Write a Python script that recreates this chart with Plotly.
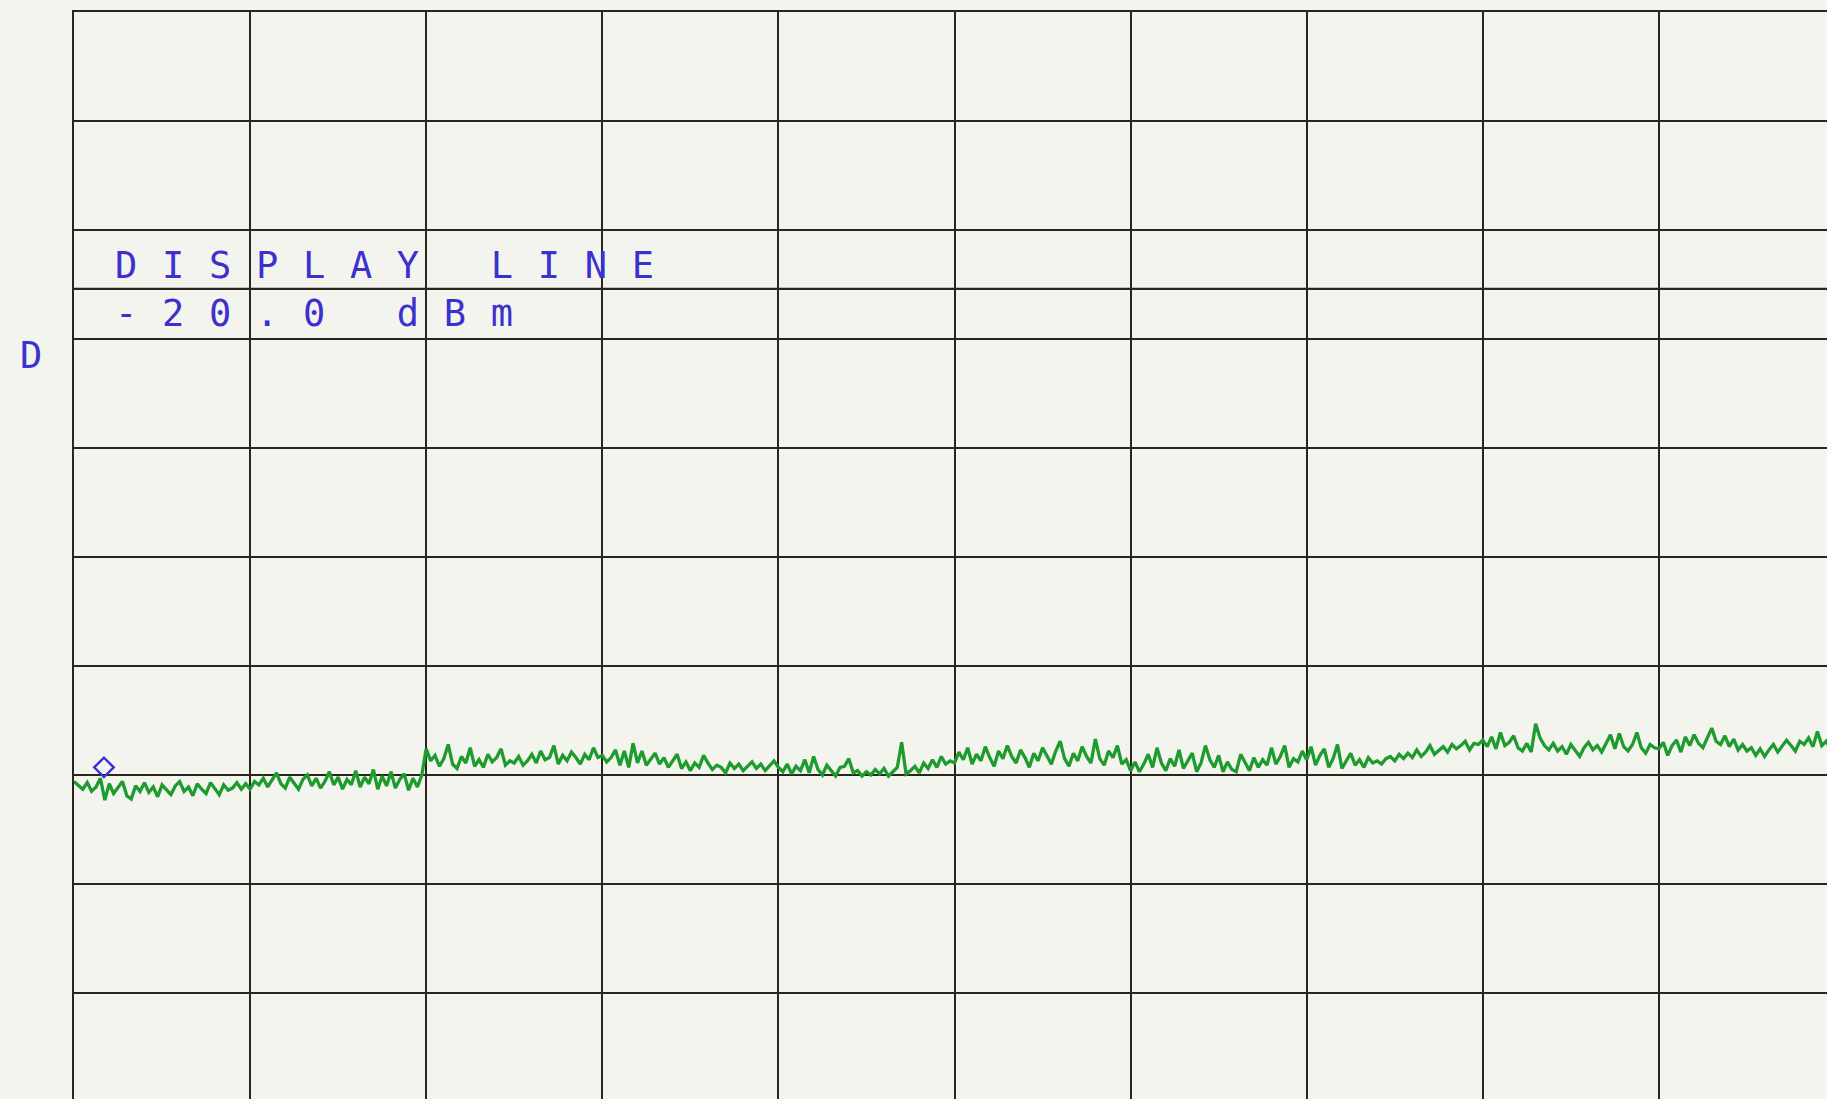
import numpy as np
import plotly.graph_objects as go

# ---------------- data ----------------
REF_LEVEL_DBM = 5.4          # top graticule line
DB_PER_DIV = 10
N_DIV_X = 10
DISPLAY_LINE_DBM = -20.0
LABEL_LINE1 = "DISPLAY LINE"
LABEL_LINE2 = "-20.0 dBm"
SIDE_LABEL = "D"

# trace amplitude (dBm), 40 sweep points per horizontal division
DIV0 = [-65.2,-65.6,-65.9,-65.3,-66.1,-65.7,-64.9,-66.9,-65.4,-66.3,-65.8,-65.2,-66.5,-66.8,-65.6,-66.1,-65.3,-66.2,-65.7,-66.6,
        -65.5,-66.0,-66.4,-65.6,-65.2,-66.1,-65.7,-66.5,-65.4,-65.9,-66.3,-65.3,-65.8,-66.4,-65.5,-66.0,-65.8,-65.3,-65.9,-65.4]
DIV1 = [-65.9,-65.2,-65.5,-64.9,-65.7,-65.1,-64.4,-65.4,-65.8,-64.8,-65.3,-65.9,-65.0,-64.6,-65.6,-64.9,-65.8,-65.2,-64.3,-65.5,
        -64.8,-65.9,-65.0,-65.5,-64.2,-65.7,-64.8,-65.4,-64.1,-65.9,-64.7,-65.6,-64.3,-65.8,-65.0,-64.5,-66.0,-64.9,-65.7,-64.6]
DIV2 = [-62.2,-63.3,-62.8,-63.8,-63.1,-61.8,-63.6,-64.0,-62.9,-63.5,-62.1,-63.8,-63.2,-63.9,-62.7,-63.4,-63.0,-62.2,-63.7,-63.3,
        -63.5,-62.9,-63.7,-63.3,-62.7,-63.5,-62.4,-63.2,-63.0,-61.9,-63.6,-62.8,-63.3,-62.5,-63.0,-63.6,-62.7,-63.2,-62.1,-63.0]
DIV3 = [-62.8,-63.4,-63.0,-62.3,-63.7,-62.4,-63.9,-61.7,-63.5,-62.4,-63.7,-63.1,-62.6,-63.6,-63.0,-63.9,-63.3,-62.7,-64.0,-63.4,
        -64.2,-63.5,-63.9,-62.8,-63.5,-64.1,-63.7,-63.9,-64.4,-63.5,-64.0,-63.6,-64.2,-63.8,-63.4,-64.0,-63.6,-64.2,-63.8,-63.3]
DIV4 = [-63.9,-64.3,-63.6,-64.5,-63.8,-64.2,-63.2,-64.4,-62.9,-64.1,-64.6,-63.7,-64.2,-64.7,-63.9,-63.8,-63.1,-64.4,-64.2,-64.7,
        -64.3,-64.6,-64.1,-64.5,-64.0,-64.7,-64.3,-63.9,-61.6,-64.5,-64.2,-63.8,-64.4,-63.5,-64.0,-63.2,-63.9,-62.9,-63.6,-63.3]
DIV5 = [-63.5,-62.5,-63.2,-62.1,-63.6,-62.7,-63.3,-62.0,-63.0,-63.8,-62.4,-63.1,-61.9,-62.9,-63.5,-62.3,-63.0,-63.9,-62.6,-63.3,
        -62.1,-62.8,-63.6,-62.4,-61.5,-63.1,-63.8,-62.6,-63.3,-62.0,-62.9,-63.5,-61.3,-63.1,-63.7,-62.4,-63.0,-61.9,-63.6,-63.2]
DIV6 = [-64.2,-63.4,-64.3,-63.6,-62.7,-63.9,-62.1,-63.5,-64.2,-63.1,-63.8,-62.3,-64.0,-63.3,-62.6,-64.3,-63.5,-61.9,-63.2,-63.9,
        -62.8,-64.3,-63.4,-64.1,-64.3,-62.7,-63.5,-64.2,-63.0,-63.9,-63.2,-63.7,-62.1,-63.6,-62.9,-61.9,-63.9,-63.1,-63.4,-62.4]
DIV7 = [-63.2,-62.0,-63.7,-62.8,-62.2,-63.9,-63.1,-61.8,-64.0,-63.3,-62.6,-63.7,-63.2,-63.9,-63.0,-63.5,-63.3,-63.6,-63.1,-62.9,
        -63.3,-62.7,-63.1,-62.6,-63.0,-62.3,-62.9,-62.5,-61.9,-62.7,-62.3,-62.0,-62.5,-61.8,-62.2,-61.9,-61.5,-62.3,-61.7,-61.8]
DIV8 = [-61.4,-62.0,-61.1,-62.2,-60.7,-61.9,-61.6,-61.0,-62.1,-62.4,-61.7,-62.5,-59.9,-61.2,-61.9,-62.3,-61.7,-62.4,-62.0,-62.7,
        -61.8,-62.3,-62.9,-62.1,-61.6,-62.3,-61.9,-62.5,-61.7,-60.9,-62.2,-60.8,-62.0,-62.4,-61.8,-60.7,-62.1,-62.6,-61.8,-62.1]
DIV9 = [-62.2,-61.6,-62.8,-61.9,-61.4,-62.5,-61.1,-61.9,-60.9,-61.7,-62.1,-61.2,-60.3,-61.5,-61.8,-61.0,-62.0,-61.3,-62.3,-61.8,
        -62.4,-62.1,-62.8,-62.2,-62.9,-62.3,-61.8,-62.5,-62.0,-61.4,-61.9,-62.4,-61.5,-61.8,-61.2,-62.0,-60.6,-61.9,-61.5,-62.2]
LAST_POINT = [-61.8]

MARKER_X_DIV = [0.17]
MARKER_DBM = [-63.9]

# ---------------- build ----------------
trace_dbm = DIV0 + DIV1 + DIV2 + DIV3 + DIV4 + DIV5 + DIV6 + DIV7 + DIV8 + DIV9 + LAST_POINT
x_div = np.linspace(0, N_DIV_X, len(trace_dbm))

BG = "#f4f4ef"
GRID = "#2a261d"
GREEN = "#1d9b2d"
BLUE = "#3b31cf"

W, H = 1827, 1099
L, T = 74, 12
PX_PER_XDIV = 176.1
PX_PER_YDIV = 109.0
x_span = (W - L) / PX_PER_XDIV
y_span = (H - T) / PX_PER_YDIV * DB_PER_DIV

fig = go.Figure()
fig.add_trace(go.Scatter(x=x_div, y=trace_dbm, mode="lines",
                         line=dict(color=GREEN, width=3.3), hoverinfo="skip"))
fig.add_trace(go.Scatter(x=MARKER_X_DIV, y=MARKER_DBM, mode="markers",
                         marker=dict(symbol="diamond-open", size=15, color=BLUE,
                                     line=dict(color=BLUE, width=2.4)),
                         hoverinfo="skip"))

fig.add_hline(y=DISPLAY_LINE_DBM, line=dict(color=GRID, width=2.4), layer="below")

font = dict(family="DejaVu Sans Mono", size=37, color=BLUE)
sp = "letter-spacing:24.7px"
fig.add_annotation(x=0.222, y=-17.9, xref="x", yref="y", xanchor="left", yanchor="middle",
                   text=f"<span style='{sp}'>{LABEL_LINE1}</span>", showarrow=False, font=font)
fig.add_annotation(x=0.222, y=-22.3, xref="x", yref="y", xanchor="left", yanchor="middle",
                   text=f"<span style='{sp}'>{LABEL_LINE2}</span>", showarrow=False, font=font)
fig.add_annotation(x=(31 - L) / (W - L), y=1 - (356 - T) / (H - T), xref="paper", yref="paper",
                   xanchor="center", yanchor="middle",
                   text=SIDE_LABEL, showarrow=False, font=font)

fig.update_xaxes(range=[0, x_span], tick0=0, dtick=1, showgrid=True, side="top",
                 gridcolor=GRID, gridwidth=2.4, showticklabels=False, ticks="",
                 zeroline=False, showline=True, linecolor=GRID, linewidth=2.4, fixedrange=True)
fig.update_yaxes(range=[REF_LEVEL_DBM - y_span, REF_LEVEL_DBM], tick0=REF_LEVEL_DBM,
                 dtick=DB_PER_DIV, showgrid=True, gridcolor=GRID, gridwidth=2.4,
                 showticklabels=False, ticks="", zeroline=False,
                 showline=True, linecolor=GRID, linewidth=2.4, fixedrange=True)

fig.update_layout(width=W, height=H, margin=dict(l=L, r=0, t=T, b=0, pad=0),
                  paper_bgcolor=BG, plot_bgcolor=BG, showlegend=False)

fig.write_html("out.html", config={"displayModeBar": False},
               post_script="document.body.style.margin='0';document.body.style.overflow='hidden';document.body.style.background='" + BG + "';")
